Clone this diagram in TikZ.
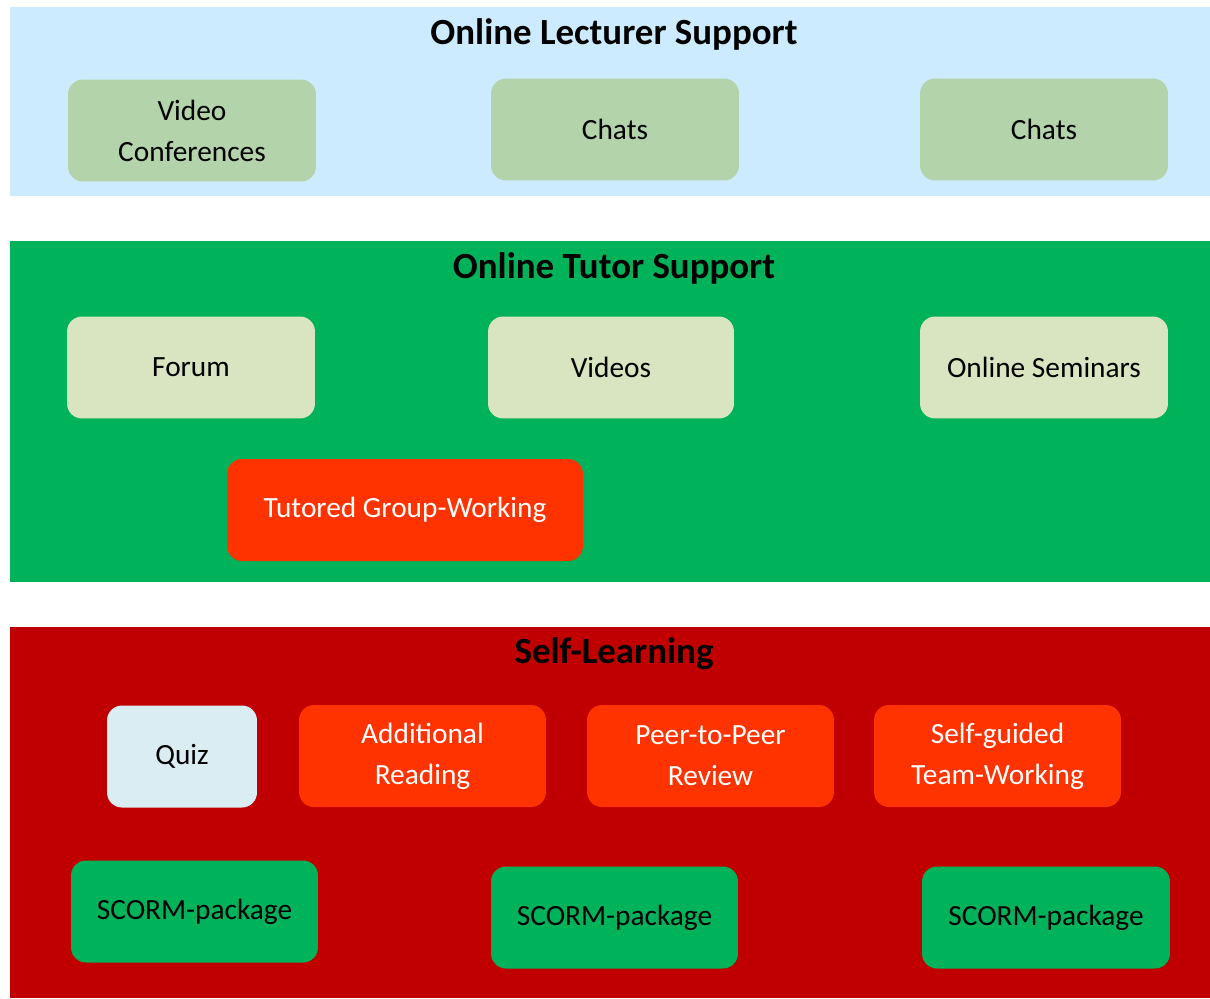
\documentclass[tikz,border=0pt]{standalone}
\usepackage{fontspec}
\setmainfont{Carlito}
\usepackage{tikz}
\usetikzlibrary{positioning}
\definecolor{lecturer}{RGB}{204,235,254}
\definecolor{lecturerbox}{RGB}{179,212,171}
\definecolor{tutor}{RGB}{0,178,90}
\definecolor{tutorbox}{RGB}{217,228,192}
\definecolor{selflearn}{RGB}{192,0,0}
\definecolor{important}{RGB}{255,51,0}
\definecolor{quizbox}{RGB}{218,237,242}
\tikzstyle{tile} = [rectangle, rounded corners=0.3cm, minimum width=4.96cm, minimum height=2.04cm, inner sep=0pt, align=center, font=\fontsize{16.7}{23.3}\selectfont]
\tikzstyle{bandtitle} = [font=\fontsize{21}{25}\selectfont\bfseries, inner sep=0pt]
\begin{document}
\begin{tikzpicture}[x=0.02cm, y=-0.02cm]
     \useasboundingbox (0, 0) rectangle (1210, 998);
     % online lecturer support
     \fill[fill = lecturer] (10, 7) rectangle (1210, 196);
     \node (lecturertitle) at (614, 34) [bandtitle] {Online Lecturer Support};
     \node (videoconf) at (192, 130.5) [tile, fill = lecturerbox] {Video\\Conferences};
     \node (chatsa) at (615, 129.5) [tile, fill = lecturerbox] {Chats};
     \node (chatsb) at (1044, 129.5) [tile, fill = lecturerbox] {Chats};
     % online tutor support
     \fill[fill = tutor] (10, 241) rectangle (1210, 582);
     \node (tutortitle) at (614, 268) [bandtitle] {Online Tutor Support};
     \node (forum) at (191, 367.5) [tile, fill = tutorbox] {Forum};
     \node (videos) at (611, 367.5) [tile, fill = tutorbox, minimum width = 4.92cm] {Videos};
     \node (seminars) at (1044, 367.5) [tile, fill = tutorbox] {Online Seminars};
     \node (groupwork) at (405, 510) [tile, fill = important, text = white, minimum width = 7.12cm] {Tutored Group-Working};
     % self-learning
     \fill[fill = selflearn] (10, 627) rectangle (1210, 998);
     \node (selftitle) at (614, 654) [bandtitle] {Self-Learning};
     \node (quiz) at (182, 756.5) [tile, fill = quizbox, minimum width = 3cm] {Quiz};
     \node (reading) at (422.5, 756) [tile, fill = important, text = white, minimum width = 4.94cm] {Additional\\Reading};
     \node (peerreview) at (710.5, 756) [tile, fill = important, text = white, minimum width = 4.94cm] {Peer-to-Peer\\Review};
     \node (teamwork) at (997.5, 756) [tile, fill = important, text = white, minimum width = 4.94cm] {Self-guided\\Team-Working};
     \node (scorma) at (194.5, 911.5) [tile, fill = tutor, minimum width = 4.94cm] {SCORM-package};
     \node (scormb) at (614.5, 917.5) [tile, fill = tutor, minimum width = 4.94cm] {SCORM-package};
     \node (scormc) at (1046, 917.5) [tile, fill = tutor] {SCORM-package};
   \end{tikzpicture}
\end{document}
